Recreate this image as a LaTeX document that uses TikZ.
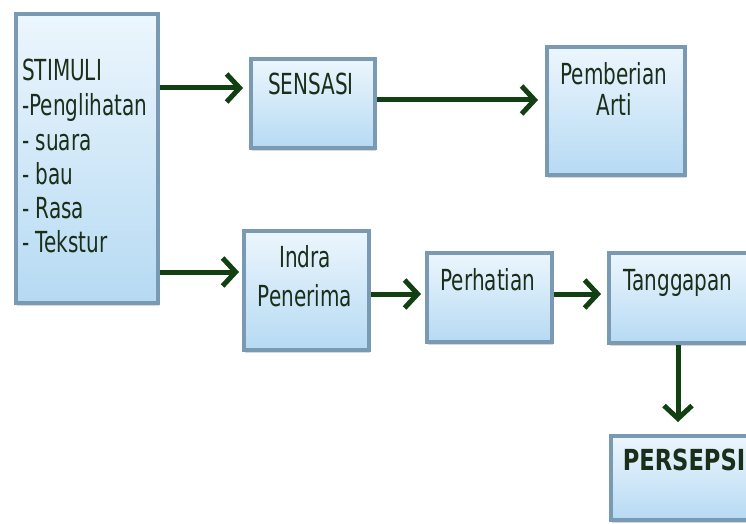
\documentclass[tikz,border=0pt]{standalone}
\usepackage{fontspec}
\setmainfont{DejaVu Sans}[FakeStretch=0.69, BoldFeatures={FakeStretch=0.78}]
\usetikzlibrary{arrows.meta,shadows}
\definecolor{boxborder}{RGB}{122,154,180}
\definecolor{boxtop}{RGB}{236,246,253}
\definecolor{boxbot}{RGB}{182,218,243}
\definecolor{arrowgreen}{RGB}{18,64,18}
\definecolor{txt}{RGB}{26,46,26}
\begin{document}
\begin{tikzpicture}[x=1pt,y=-1pt,
  boxnode/.style={draw=boxborder, line width=4pt, top color=boxtop, bottom color=boxbot,
    anchor=north west, inner sep=0pt,
    drop shadow={shadow xshift=1pt,shadow yshift=-3pt,opacity=0.3}},
  lbl/.style={font=\fontsize{29}{34}\selectfont, text=txt, inner sep=0pt, anchor=base},
  lbll/.style={lbl, anchor=base west},
  flow/.style={draw=arrowgreen, line width=5pt, -{Straight Barb[length=13pt,width=28pt]}}]
\useasboundingbox (0,0) rectangle (746,524);
\fill[white] (0,0) rectangle (746,524);

% boxes
\node[boxnode, minimum width=142pt, minimum height=289pt] (stim) at (14,12) {};
\node[boxnode, minimum width=124pt, minimum height=89pt] (sens) at (249,57) {};
\node[boxnode, minimum width=138pt, minimum height=128pt] (pemb) at (545,45) {};
\node[boxnode, minimum width=125pt, minimum height=119pt] (indra) at (242,229) {};
\node[boxnode, minimum width=125pt, minimum height=89pt] (perh) at (425,251) {};
\node[boxnode, minimum width=141pt, minimum height=90pt] (tang) at (607,251) {};
\node[boxnode, minimum width=150pt, minimum height=84pt] (pers) at (609,434) {};

% texts
\node[lbll] (s1) at (22,81) {STIMULI};
\node[lbll] (s2) at (22,115) {-Penglihatan};
\node[lbll] (s3) at (22,150) {- suara};
\node[lbll] (s4) at (22,184) {- bau};
\node[lbll] (s5) at (22,218) {- Rasa};
\node[lbll] (s6) at (22,252) {- Tekstur};
\node[lbl] (t1) at (311,95) {SENSASI};
\node[lbl] (t2) at (614,85) {Pemberian};
\node[lbl] (t3) at (614,116) {Arti};
\node[lbl] (t4) at (305,267) {Indra};
\node[lbl] (t5) at (305,306) {Penerima};
\node[lbl] (t6) at (488,290) {Perhatian};
\node[lbl] (t7) at (678,290) {Tanggapan};
\node[lbl, font=\fontsize{29}{34}\selectfont\bfseries] (t8) at (684,470) {PERSEPSI};

% connector rows
\coordinate (r1) at (0,88);
\coordinate (r2) at (0,100);
\coordinate (r3) at (0,272);
\coordinate (r4) at (0,294);
\coordinate (c1) at (678,0);

\draw[flow, shorten >=6pt] (stim.east |- r1) -- (sens.west |- r1);
\draw[flow, shorten >=7pt] (sens.east |- r2) -- (pemb.west |- r2);
\draw[flow, shorten >=3pt] (stim.east |- r3) -- (indra.west |- r3);
\draw[flow, shorten >=4pt] (indra.east |- r4) -- (perh.west |- r4);
\draw[flow, shorten >=6pt] (perh.east |- r4) -- (tang.west |- r4);
\draw[flow, shorten >=12pt] (c1 |- tang.south) -- (c1 |- pers.north);
\end{tikzpicture}
\end{document}
